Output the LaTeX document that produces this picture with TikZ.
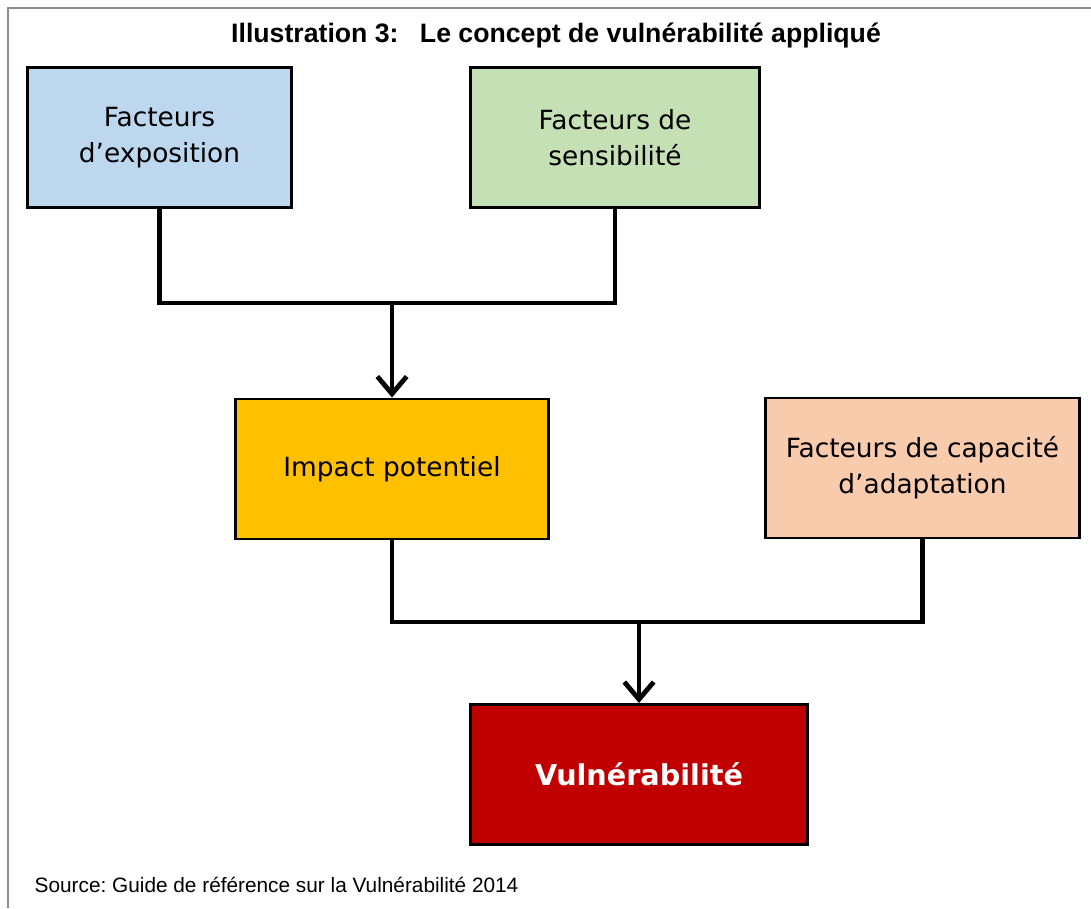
\documentclass[tikz,border=0pt]{standalone}
\usepackage{fontspec}
\setmainfont{Liberation Sans}
\newfontfamily\boxfont{DejaVu Sans}
\usetikzlibrary{arrows.meta}
\frenchspacing

\definecolor{expoblue}{HTML}{BDD7EE}
\definecolor{sensgreen}{HTML}{C5E0B4}
\definecolor{impactyellow}{HTML}{FFC000}
\definecolor{capapeach}{HTML}{F8CBAD}
\definecolor{vulnred}{HTML}{C00000}
\definecolor{framegray}{HTML}{8C8C8C}

\tikzset{
  facteur/.style={draw=black, line width=2.2pt, minimum width=198pt, minimum height=105pt,
    align=center, inner sep=0pt, font=\boxfont\fontsize{19.8}{27}\selectfont},
  link/.style={line width=3.6pt, line cap=rect},
  arr/.style={line width=3.6pt, -{Straight Barb[length=13pt, width=22pt]}}
}

\begin{document}
\begin{tikzpicture}[x=0.75pt,y=0.75pt,yscale=-1]
\useasboundingbox (0,0) rectangle (1091,908);

%Frame
\draw[framegray, line width=1.5pt] (8,908) -- (8,8) -- (1091,8);

%Title
\node (title) at (556,35) {\fontsize{20}{24}\selectfont\bfseries Illustration 3:\hspace{16pt}Le concept de vuln\'erabilit\'e appliqu\'e};

%Shapes: Rectangles
\node[facteur, fill=expoblue] (expo) at (159.5,137.5) {Facteurs\\d’exposition};
\node[facteur, fill=sensgreen, minimum width=217pt] (sens) at (615,137.5) {Facteurs de\\sensibilit\'e};
\node[facteur, fill=impactyellow, minimum width=235pt] (impact) at (392,469) {Impact potentiel};
\node[facteur, fill=capapeach, minimum width=236pt] (capa) at (922.5,468) {Facteurs de capacit\'e\\d’adaptation};
\node[facteur, fill=vulnred, minimum width=253pt, text=white,
  font=\boxfont\bfseries\fontsize{21.5}{26}\selectfont] (vuln) at (639,774.5) {Vuln\'erabilit\'e};

%Straight Lines
\coordinate (j1) at (392,303);
\coordinate (j2) at (639,622);
\draw[link] (expo.south) |- (j1) -| (sens.south);
\draw[arr] (j1) -- (impact.north);
\draw[link] (impact.south) |- (j2) -| (capa.south);
\draw[arr] (j2) -- (vuln.north);

% Text Node
\node[anchor=base west, font=\fontsize{15.6}{19}\selectfont] (source) at (30,892) {Source: Guide de r\'ef\'erence sur la Vuln\'erabilit\'e 2014};

\end{tikzpicture}
\end{document}
